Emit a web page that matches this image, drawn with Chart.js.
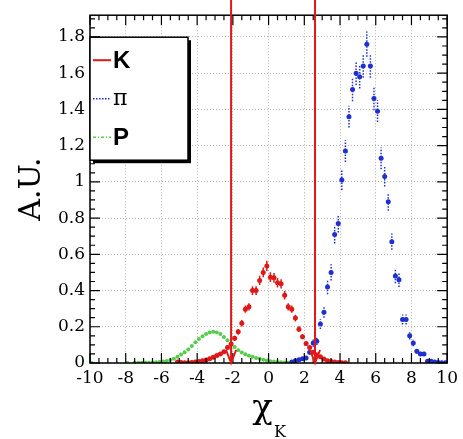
<!DOCTYPE html>
<html>
<head>
<meta charset="utf-8">
<script src="https://cdn.jsdelivr.net/npm/chart.js@4.4.0/dist/chart.umd.min.js"></script>
<style>
  body { margin: 0; background: #fff; }
  .probe { position: absolute; left: -999px; top: 0; }
</style>
</head>
<body>
<span class="probe" style="font-family: 'DejaVu Serif'">1.8 A.U. χK π</span>
<span class="probe" style="font-family: 'Liberation Sans'; font-weight: bold">K P</span>
<canvas id="pid-chart" width="463" height="439"></canvas>
<script>
// pion bins
const piX = [1.3, 1.5, 1.7, 1.9, 2.1, 2.3, 2.5, 2.7, 2.9, 3.1, 3.3, 3.5, 3.7, 3.9, 4.1, 4.3, 4.5, 4.7, 4.9, 5.1, 5.3, 5.5,
             5.7, 5.9, 6.1, 6.3, 6.5, 6.7, 6.9, 7.1, 7.3, 7.5, 7.7, 7.9, 8.1, 8.3, 8.5, 8.7, 8.9, 9.1, 9.3, 9.5, 9.7, 9.9];
const piY = [0.005, 0.012, 0.018, 0.023, 0.028, 0.06, 0.11, 0.12, 0.215, 0.28, 0.42, 0.50, 0.71, 0.77, 1.01, 1.17, 1.36, 1.51, 1.60, 1.58, 1.64, 1.76,
             1.64, 1.46, 1.39, 1.13, 1.03, 0.89, 0.67, 0.48, 0.46, 0.24, 0.24, 0.15, 0.11, 0.065, 0.05, 0.05, 0.01, 0.01, 0.005, 0.003, 0.002, 0.002];
const piErr = [0.004, 0.006, 0.008, 0.009, 0.01, 0.015, 0.02, 0.02, 0.027, 0.03, 0.04, 0.045, 0.05, 0.05, 0.055, 0.06, 0.06, 0.065, 0.065, 0.065, 0.065, 0.07,
               0.065, 0.065, 0.06, 0.06, 0.055, 0.05, 0.045, 0.04, 0.04, 0.028, 0.028, 0.02, 0.018, 0.014, 0.012, 0.012, 0.006, 0.006, 0.004, 0.003, 0.002, 0.002];

// kaon bins
const kX = [-5.1, -4.9, -4.7, -4.5, -4.3, -4.1, -3.9, -3.7, -3.5, -3.3, -3.1, -2.9, -2.7, -2.5, -2.3, -2.1, -1.9, -1.7, -1.5, -1.3, -1.1, -0.9, -0.7, -0.5, -0.3, -0.1,
            0.1, 0.3, 0.5, 0.7, 0.9, 1.1, 1.3, 1.5, 1.7, 1.9, 2.1, 2.3, 2.5, 2.7, 2.9, 3.1, 3.3, 3.5, 3.7, 3.9, 4.1, 4.3];
const kY = [0.005, 0.003, 0.001, 0.002, 0.003, 0.005, 0.008, 0.012, 0.016, 0.024, 0.032, 0.041, 0.05, 0.062, 0.085, 0.105, 0.136, 0.172, 0.22, 0.297, 0.31, 0.40, 0.40, 0.456, 0.50, 0.536,
            0.474, 0.47, 0.443, 0.437, 0.374, 0.31, 0.297, 0.248, 0.187, 0.145, 0.108, 0.085, 0.06, 0.045, 0.035, 0.022, 0.012, 0.008, 0.005, 0.003, 0.002, 0.001];
const kErr = [0.002, 0.002, 0.001, 0.002, 0.002, 0.002, 0.003, 0.004, 0.005, 0.006, 0.007, 0.008, 0.008, 0.009, 0.011, 0.012, 0.014, 0.016, 0.018, 0.02, 0.02, 0.024, 0.024, 0.026, 0.027, 0.028,
              0.027, 0.027, 0.026, 0.026, 0.024, 0.02, 0.02, 0.019, 0.016, 0.014, 0.012, 0.011, 0.009, 0.008, 0.007, 0.006, 0.004, 0.003, 0.002, 0.002, 0.002, 0.001];

// proton bins
const pX = [-9.9, -7.9, -7.5, -7.3, -7.1, -6.9, -6.7, -6.5, -6.3, -6.1, -5.9, -5.7, -5.5, -5.3, -5.1, -4.9, -4.7, -4.5, -4.3, -4.1, -3.9, -3.7,
            -3.5, -3.3, -3.1, -2.9, -2.7, -2.5, -2.3, -2.1, -1.9, -1.7, -1.5, -1.3, -1.1, -0.9, -0.7, -0.5, -0.3, -0.1, 0.1, 0.3, 0.5, 0.7, 0.9, 1.1, 1.3];
const pY = [0.0, 0.0, 0.001, 0.001, 0.001, 0.002, 0.002, 0.003, 0.004, 0.006, 0.008, 0.011, 0.016, 0.024, 0.035, 0.047, 0.06, 0.075, 0.094, 0.114, 0.132, 0.148,
            0.16, 0.168, 0.172, 0.169, 0.16, 0.143, 0.125, 0.106, 0.088, 0.071, 0.058, 0.048, 0.04, 0.034, 0.028, 0.023, 0.018, 0.014, 0.01, 0.008, 0.006, 0.004, 0.003, 0.002, 0.001];

const cutValues = [-2.1, 2.6];
const seriesLabels = ['K', 'π', 'P'];
const xTitle = 'χ';
const xTitleSub = 'K';
const yTitle = 'A.U.';

const SERIF = 'DejaVu Serif';
const SANS = 'Liberation Sans';

const toPoints = (xs, ys) => xs.map((x, i) => ({ x: x, y: ys[i] }));

// vertical error bars from dataset.errors
const errorBars = {
    id: 'errorBars',
    beforeDatasetsDraw(chart) {
        const { ctx, chartArea: ca } = chart;
        const xs = chart.scales.x, ys = chart.scales.y;
        ctx.save();
        ctx.beginPath();
        ctx.rect(ca.left, ca.top, ca.right - ca.left, ca.bottom - ca.top);
        ctx.clip();
        chart.data.datasets.forEach(ds => {
            if (!ds.errors) return;
            ctx.strokeStyle = ds.borderColor;
            ctx.lineWidth = 1.5;
            ctx.setLineDash(ds.errorDash || []);
            ds.data.forEach((p, i) => {
                const px = xs.getPixelForValue(p.x);
                ctx.beginPath();
                ctx.moveTo(px, ys.getPixelForValue(p.y - ds.errors[i]));
                ctx.lineTo(px, ys.getPixelForValue(p.y + ds.errors[i]));
                ctx.stroke();
            });
        });
        ctx.restore();
    }
};

// frame, inward ticks, cut lines, legend box and x title
const decorations = {
    id: 'decorations',
    afterDatasetsDraw(chart) {
        const { ctx, chartArea: ca } = chart;
        const xs = chart.scales.x, ys = chart.scales.y;
        ctx.save();

        // frame
        ctx.strokeStyle = '#000';
        ctx.lineWidth = 1.5;
        ctx.strokeRect(ca.left, ca.top, ca.right - ca.left, ca.bottom - ca.top);

        // ticks
        ctx.lineWidth = 1.2;
        ctx.beginPath();
        for (let i = 0; i <= 40; i++) {
            const px = xs.getPixelForValue(-10 + i * 0.5);
            const len = i % 4 === 0 ? 10 : 5;
            ctx.moveTo(px, ca.bottom); ctx.lineTo(px, ca.bottom - len);
            ctx.moveTo(px, ca.top); ctx.lineTo(px, ca.top + len);
        }
        for (let i = 0; i * 0.05 <= ys.max + 1e-9; i++) {
            const py = ys.getPixelForValue(i * 0.05);
            const len = i % 4 === 0 ? 10 : 5;
            ctx.moveTo(ca.left, py); ctx.lineTo(ca.left + len, py);
            ctx.moveTo(ca.right, py); ctx.lineTo(ca.right - len, py);
        }
        ctx.stroke();

        // cut lines with arrow heads
        ctx.strokeStyle = '#e01818';
        ctx.lineWidth = 2;
        cutValues.forEach(v => {
            const px = xs.getPixelForValue(v);
            ctx.beginPath();
            ctx.moveTo(px, 0);
            ctx.lineTo(px, ca.bottom);
            ctx.moveTo(px - 5, ca.bottom - 13);
            ctx.lineTo(px, ca.bottom);
            ctx.lineTo(px + 5, ca.bottom - 13);
            ctx.stroke();
        });

        // legend
        const lx = ca.left, ly = ca.top + 22, lw = 98, lh = 123;
        ctx.fillStyle = '#000';
        ctx.fillRect(lx + 3, ly + 3, lw, lh);
        ctx.fillStyle = '#fff';
        ctx.fillRect(lx, ly, lw, lh);
        ctx.strokeStyle = '#000';
        ctx.lineWidth = 1.5;
        ctx.strokeRect(lx, ly, lw, lh);
        chart.data.datasets.forEach((ds, i) => {
            const ry = ly + 23 + i * 38.5;
            ctx.strokeStyle = ds.borderColor;
            ctx.lineWidth = ds.legendWidth;
            ctx.setLineDash(ds.legendDash);
            ctx.beginPath();
            ctx.moveTo(lx + 3, ry);
            ctx.lineTo(lx + 21, ry);
            ctx.stroke();
            ctx.setLineDash([]);
            ctx.fillStyle = '#000';
            ctx.font = ds.legendFont;
            ctx.textBaseline = 'middle';
            ctx.textAlign = 'left';
            ctx.fillText(ds.label, lx + 23, ry + 1);
        });

        // x title with subscript
        ctx.fillStyle = '#000';
        ctx.textBaseline = 'alphabetic';
        ctx.font = '34px ' + SERIF;
        const w1 = ctx.measureText(xTitle).width;
        ctx.font = '16px ' + SERIF;
        const w2 = ctx.measureText(xTitleSub).width;
        const x0 = (ca.left + ca.right) / 2 - (w1 + w2) / 2;
        ctx.font = '34px ' + SERIF;
        ctx.fillText(xTitle, x0, 418);
        ctx.font = '16px ' + SERIF;
        ctx.fillText(xTitleSub, x0 + w1 + 1, 437);

        ctx.restore();
    }
};

const fmt = v => String(+v.toFixed(2));

function drawChart() {
    new Chart(document.getElementById('pid-chart'), {
        type: 'scatter',
        data: {
            datasets: [
                {
                    label: seriesLabels[0],
                    data: toPoints(kX, kY),
                    errors: kErr,
                    errorDash: [],
                    borderColor: '#e01818',
                    backgroundColor: '#e01818',
                    pointRadius: 2.5,
                    pointBorderWidth: 0,
                    legendDash: [],
                    legendWidth: 2,
                    legendFont: 'bold 24px ' + SANS
                },
                {
                    label: seriesLabels[1],
                    data: toPoints(piX, piY),
                    errors: piErr,
                    errorDash: [1.5, 1.5],
                    borderColor: '#1f2fd0',
                    backgroundColor: '#1f2fd0',
                    pointRadius: 2.5,
                    pointBorderWidth: 0,
                    legendDash: [1.5, 1.5],
                    legendWidth: 1.5,
                    legendFont: '22px ' + SERIF
                },
                {
                    label: seriesLabels[2],
                    data: toPoints(pX, pY),
                    borderColor: '#55cc4a',
                    backgroundColor: '#55cc4a',
                    pointRadius: 2,
                    pointBorderWidth: 0,
                    legendDash: [3, 2, 1, 2],
                    legendWidth: 1.5,
                    legendFont: 'bold 24px ' + SANS
                }
            ]
        },
        options: {
            responsive: false,
            animation: false,
            layout: { padding: { top: 13, right: 13, left: 0, bottom: 0 } },
            scales: {
                x: {
                    min: -10,
                    max: 10,
                    afterFit: s => { s.height = 76; },
                    ticks: { stepSize: 2, font: { family: 'DejaVu Serif', size: 17 }, color: '#000', padding: 5, callback: fmt, maxRotation: 0 },
                    grid: { color: '#b5b5b5', drawTicks: false },
                    border: { display: false, dash: [1, 2] }
                },
                y: {
                    min: 0,
                    max: 1.92,
                    afterFit: s => { s.width = 90; },
                    ticks: { stepSize: 0.2, includeBounds: false, font: { family: 'DejaVu Serif', size: 17 }, color: '#000', padding: 5, callback: fmt },
                    grid: { color: '#b5b5b5', drawTicks: false },
                    border: { display: false, dash: [1, 2] },
                    title: {
                        display: true,
                        text: yTitle,
                        color: '#000',
                        font: { family: 'DejaVu Serif', size: 30 },
                        padding: { top: 14, bottom: 0 }
                    }
                }
            },
            plugins: {
                legend: { display: false },
                tooltip: { enabled: false }
            }
        },
        plugins: [errorBars, decorations]
    });
}

document.fonts.ready.then(drawChart);
</script>
</body>
</html>
